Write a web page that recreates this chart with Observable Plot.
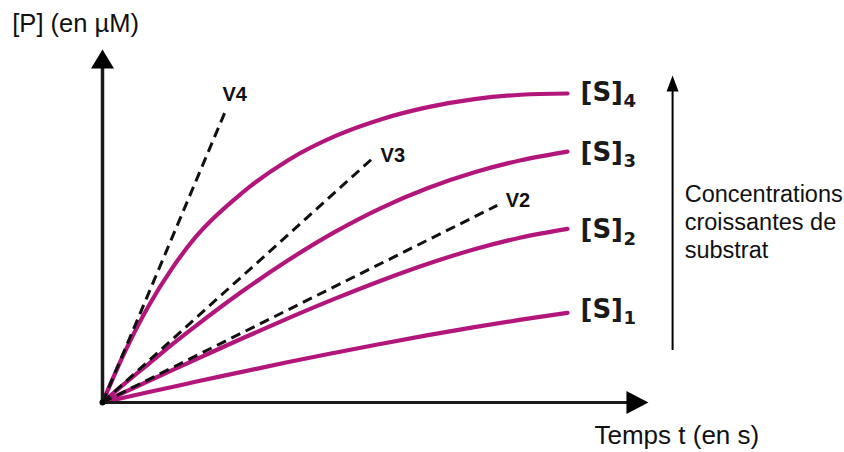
<!DOCTYPE html>
<html><head><meta charset="utf-8">
<script src="https://cdn.jsdelivr.net/npm/d3@7"></script>
<script src="https://cdn.jsdelivr.net/npm/@observablehq/plot@0.6"></script>
<style>body{margin:0;background:#fff} svg{display:block}</style>
</head><body><div id="chart"></div>
<script>
// time samples (s) and product concentration (µM)
const times = [0, 0.5, 1, 1.5, 2, 3, 4, 5, 6, 7, 8, 9, 10];
const seriesNames = ["S1", "S2", "S3", "S4"];
const s1 = [0, 0.17, 0.34, 0.50, 0.67, 0.99, 1.31, 1.61, 1.90, 2.18, 2.44, 2.68, 2.90];
const s2 = [0, 0.35, 0.70, 1.05, 1.39, 2.07, 2.73, 3.36, 3.95, 4.49, 4.96, 5.34, 5.62];
const s3 = [0, 0.64, 1.26, 1.88, 2.47, 3.59, 4.61, 5.52, 6.30, 6.94, 7.45, 7.84, 8.12];
const s4 = [0, 1.70, 3.15, 4.35, 5.35, 6.78, 7.85, 8.62, 9.17, 9.56, 9.82, 9.96, 10.0];
const seriesValues = [s1, s2, s3, s4];
const seriesSubs = ["1", "2", "3", "4"];
const seriesLabelP = [3.02, 5.58, 8.09, 10.03];

// initial-rate tangents (end points)
const tangentNames = ["V2", "V3", "V4"];
const tangentEndT = [8.49, 5.83, 2.65];
const tangentEndP = [6.38, 7.93, 9.45];
const tangentLabelT = [8.67, 5.98, 2.58];
const tangentLabelP = [6.54, 7.99, 9.98];

// axis extents (arrow tips) and annotation anchors
const xTip = 11.74, yTip = 11.42;
const concArrowT = 12.26, concArrowBottom = 1.68, concArrowTip = 10.58;
const concText = "Concentrations\ncroissantes de\nsubstrat";
const xTitle = "Temps t (en s)", yTitle = "[P] (en µM)";

const magenta = "#b3167a";
const curveData = seriesNames.flatMap((s, i) => times.map((t, j) => ({s, t, p: seriesValues[i][j]})));
const ends = seriesNames.map((s, i) => ({s, t: times[times.length - 1], p: seriesLabelP[i], sub: seriesSubs[i]}));
const tangents = tangentNames.map((n, i) => ({n, t: tangentEndT[i], p: tangentEndP[i], lt: tangentLabelT[i], lp: tangentLabelP[i]}));

const head = {draw(ctx, l, r) { ctx.moveTo(0, -l); ctx.lineTo(r, 0); ctx.lineTo(-r, 0); ctx.closePath(); }};
const sans = "Liberation Sans, Arial, sans-serif";

const chart = Plot.plot({
  width: 844, height: 452,
  marginTop: 0, marginRight: 0, marginBottom: 0, marginLeft: 0,
  x: {domain: [0, 10], range: [102, 567], axis: null},
  y: {domain: [0, 10], range: [402, 93], axis: null},
  style: {fontFamily: sans, background: "#fff"},
  marks: [
    Plot.line(curveData, {x: "t", y: "p", z: "s", stroke: magenta, strokeWidth: 4.2, curve: "monotone-x"}),
    Plot.link(tangents, {x1: 0, y1: 0, x2: "t", y2: "p", stroke: "#111", strokeWidth: 3, strokeDasharray: "10,6"}),
    Plot.ruleX([0], {y1: 0, y2: yTip - 0.5, stroke: "#1a1a1a", strokeWidth: 3.5}),
    Plot.ruleY([0], {x1: 0, x2: xTip - 0.4, stroke: "#1a1a1a", strokeWidth: 3}),
    Plot.vector([{t: 0, p: yTip}], {x: "t", y: "p", length: 19, r: 11.5, anchor: "end", shape: head, fill: "#000", stroke: "none"}),
    Plot.vector([{t: xTip, p: 0}], {x: "t", y: "p", length: 22, r: 11.5, rotate: 90, anchor: "end", shape: head, fill: "#000", stroke: "none"}),
    Plot.dot([{t: 0, p: 0}], {x: "t", y: "p", r: 3, fill: "#000"}),
    Plot.ruleX([concArrowT], {y1: concArrowBottom, y2: concArrowTip - 0.3, stroke: "#000", strokeWidth: 2}),
    Plot.vector([{t: concArrowT, p: concArrowTip}], {x: "t", y: "p", length: 16, r: 6, anchor: "end", shape: head, fill: "#000", stroke: "none"}),
    Plot.text(ends, {x: "t", y: "p", text: d => "[S]", dx: 13, textAnchor: "start", lineAnchor: "middle", fontFamily: "DejaVu Sans", fontWeight: "bold", fontSize: 26, fill: "#1a1a1a"}),
    Plot.text(ends, {x: "t", y: "p", text: "sub", dx: 56, dy: 9, textAnchor: "start", lineAnchor: "middle", fontFamily: "DejaVu Sans", fontWeight: "bold", fontSize: 18, fill: "#1a1a1a"}),
    Plot.text(tangents, {x: "lt", y: "lp", text: "n", textAnchor: "start", lineAnchor: "middle", fontWeight: "bold", fontSize: 20, fill: "#111"}),
    Plot.text([yTitle], {x: -1.94, y: 12.0, text: d => d, textAnchor: "start", lineAnchor: "bottom", fontSize: 25.5, fill: "#111"}),
    Plot.text([xTitle], {x: 10.58, y: -1.33, text: d => d, textAnchor: "start", lineAnchor: "bottom", fontSize: 26, fill: "#111"}),
    Plot.text([concText], {x: 12.52, y: 7.15, text: d => d, textAnchor: "start", lineAnchor: "top", lineHeight: 1.2, fontSize: 23.5, fill: "#111"})
  ]
});
document.getElementById("chart").append(chart);
</script>
</body></html>
